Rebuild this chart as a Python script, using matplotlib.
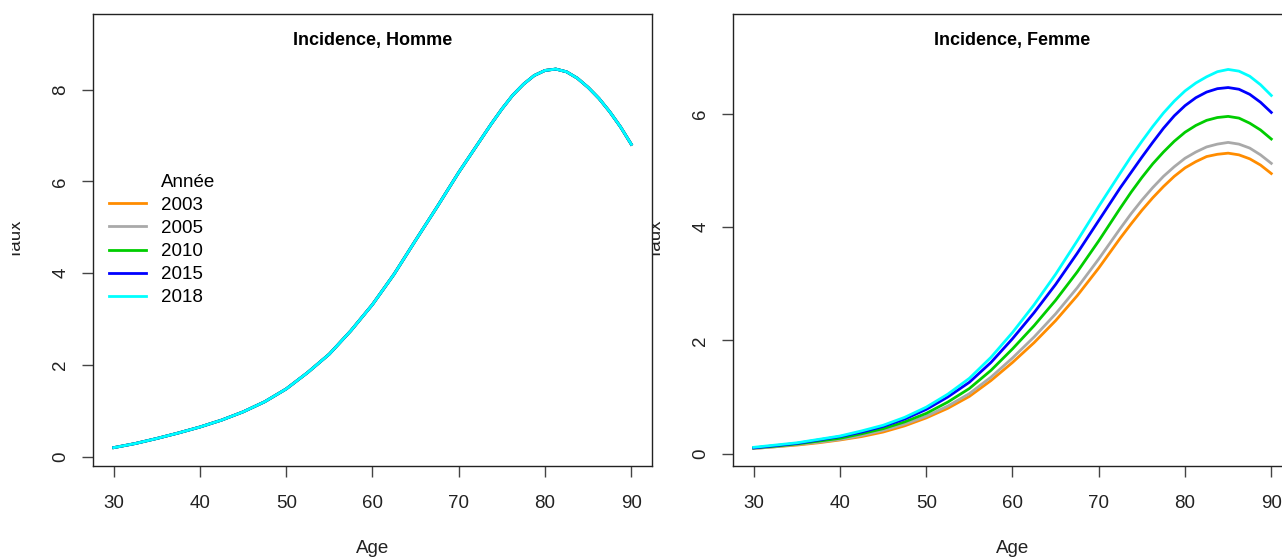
import matplotlib
matplotlib.use("Agg")
import matplotlib.pyplot as plt
from matplotlib.lines import Line2D
from matplotlib.transforms import Bbox, TransformedBbox

plt.rcParams['font.family'] = ['Liberation Sans', 'DejaVu Sans']

# data (taux d'incidence par age)
# finer steps after 72.5 to follow the curvature around the peak
ages = [30, 32.5, 35, 37.5, 40, 42.5, 45, 47.5, 50, 52.5, 55, 57.5, 60,
        62.5, 65, 67.5, 70, 72.5, 73.75, 75, 76.25, 77.5, 78.75, 80, 81.25,
        82.5, 83.75, 85, 86.25, 87.5, 88.75, 90]
years = ['2003', '2005', '2010', '2015', '2018']
colors = ['#FF8C00', '#A9A9A9', '#00CD00', '#0000FF', '#00FFFF']

# homme: the five years overlap exactly on the picture
homme = [0.20, 0.29, 0.40, 0.52, 0.65, 0.80, 0.98, 1.20, 1.48, 1.84, 2.24,
         2.75, 3.32, 3.98, 4.72, 5.45, 6.20, 6.90, 7.25, 7.58, 7.88, 8.12,
         8.31, 8.42, 8.45, 8.39, 8.25, 8.05, 7.81, 7.52, 7.19, 6.81]

femme_2003 = [0.09, 0.12, 0.15, 0.19, 0.24, 0.30, 0.38, 0.49, 0.63, 0.80, 1.01,
              1.29, 1.61, 1.96, 2.35, 2.79, 3.28, 3.81, 4.06, 4.30, 4.52, 4.72,
              4.90, 5.05, 5.16, 5.25, 5.29, 5.31, 5.28, 5.21, 5.10, 4.95]
femme_2005 = [0.09, 0.12, 0.16, 0.20, 0.25, 0.32, 0.41, 0.52, 0.66, 0.84, 1.06,
              1.35, 1.69, 2.06, 2.47, 2.93, 3.44, 3.98, 4.24, 4.48, 4.70, 4.90,
              5.07, 5.22, 5.33, 5.42, 5.47, 5.50, 5.47, 5.40, 5.28, 5.13]
femme_2010 = [0.10, 0.13, 0.17, 0.22, 0.27, 0.35, 0.44, 0.56, 0.71, 0.91, 1.15,
              1.47, 1.85, 2.26, 2.71, 3.21, 3.76, 4.34, 4.62, 4.88, 5.12, 5.33,
              5.52, 5.68, 5.80, 5.89, 5.94, 5.96, 5.93, 5.84, 5.72, 5.56]
femme_2015 = [0.10, 0.14, 0.18, 0.24, 0.30, 0.38, 0.48, 0.61, 0.78, 1.00, 1.26,
              1.61, 2.03, 2.49, 2.99, 3.54, 4.12, 4.70, 4.97, 5.24, 5.50, 5.75,
              5.97, 6.15, 6.29, 6.39, 6.45, 6.47, 6.44, 6.35, 6.21, 6.03]
femme_2018 = [0.11, 0.15, 0.19, 0.25, 0.31, 0.40, 0.50, 0.64, 0.82, 1.05, 1.33,
              1.70, 2.14, 2.63, 3.17, 3.76, 4.37, 4.96, 5.25, 5.52, 5.78, 6.02,
              6.23, 6.41, 6.55, 6.66, 6.75, 6.79, 6.76, 6.67, 6.52, 6.33]
femme = [femme_2003, femme_2005, femme_2010, femme_2015, femme_2018]

W, H = 1282.0, 558.0
fig = plt.figure(figsize=(W / 100, H / 100), dpi=100)


def px(x, y, w=0, h=0):
    # pixel box (from top-left) -> figure fraction
    return [x / W, (H - y - h) / H, w / W, h / H]


def style_axes(ax, ylim, yticks):
    ax.set_xlim(27.6, 92.4)
    ax.set_ylim(*ylim)
    ax.set_xticks([30, 40, 50, 60, 70, 80, 90])
    ax.set_yticks(yticks)
    for s in ax.spines.values():
        s.set_linewidth(1.0)
        s.set_color('#222222')
    ax.tick_params(direction='out', length=8, width=1.0, color='#444444',
                   labelsize=13.5, labelcolor='#222222')
    ax.tick_params(axis='x', pad=13)
    ax.tick_params(axis='y', pad=9)
    for lab in ax.get_yticklabels():
        lab.set_rotation(90)
        lab.set_va('center')


def add_labels(ax, title, dx):
    ax.text(0.5, 0.9325, title, transform=ax.transAxes, ha='center',
            va='baseline', fontsize=13, fontweight='bold')
    fig.text((dx + 372.5) / W, (H - 553) / H, 'Age', ha='center',
             va='baseline', fontsize=13.5, color='#222222')
    t = fig.text((dx + 21) / W, (H - 239) / H, 'Taux', rotation=90,
                 rotation_mode='anchor', ha='center', va='baseline',
                 fontsize=13.5, color='#222222')
    # the reference is cropped through the label
    t.set_clip_box(TransformedBbox(Bbox([[(dx + 12) / W, 0], [1, 1]]),
                                   fig.transFigure))
    t.set_clip_on(True)


# Homme
ax1 = fig.add_axes(px(93, 14, 559, 452))
for yr, c in zip(years, colors):
    ax1.plot(ages, homme, color=c, lw=2, label=yr)
style_axes(ax1, (-0.2, 9.65), [0, 2, 4, 6, 8])
add_labels(ax1, 'Incidence, Homme', 0)

handles = [Line2D([], [], color='none')] + [
    Line2D([], [], color=c, lw=2) for c in colors]
ax1.legend(handles, ['Année'] + years, loc='center left',
           bbox_to_anchor=(0.0, 0.5), borderaxespad=0, borderpad=0.87,
           frameon=False, fontsize=13.5, handlelength=1.95,
           handletextpad=0.8, labelspacing=0.32)

# Femme
ax2 = fig.add_axes(px(733, 14, 559, 452))
for yr, c, vals in zip(years, colors, femme):
    ax2.plot(ages, vals, color=c, lw=2, label=yr)
style_axes(ax2, (-0.22, 7.77), [0, 2, 4, 6])
add_labels(ax2, 'Incidence, Femme', 640)

fig.savefig('out.png', dpi=100)
